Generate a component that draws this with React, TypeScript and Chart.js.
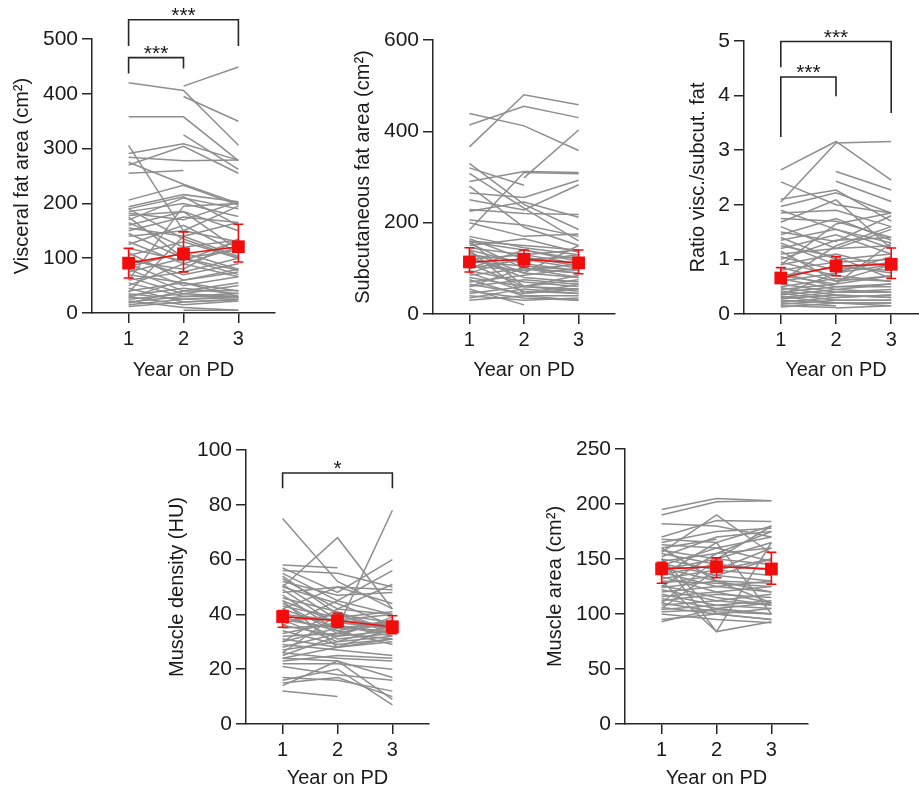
import React, { useEffect, useRef } from "react";
import { Chart, registerables } from "chart.js";
Chart.register(...registerables);

// ---------- shared ----------
const YEARS = [1, 2, 3];
const X_TICKS = [1, 2, 3];
const X_TITLE = "Year on PD";

// ---------- Visceral fat area ----------
const visceralY1 = [420, null, null, 358, null, 306, 291, 284, 270, 255, 275, 206, 194, 190, 185, 182, 178, 170, 165, 160, 155, 150, 145, 140, 130, 125, 118, 110, 105, 100, 95, 90, 85, 80, 75, 70, 65, 60, 55, 50, 45, 40, 35, 32, 30, 28, 25, 22, 20, 18, 15, null, 12, 38, 60, 190, 175];
const visceralY2 = [406, 414, 395, 358, 325, 150, 309, 278, 304, 260, 235, 233, 216, 212, 200, 170, 185, 210, 120, 185, 140, 175, 100, 150, 90, 160, 95, 60, 130, 70, 80, 50, 110, 40, 100, 55, 35, 75, 30, 90, 20, 55, 25, 45, 15, 60, 35, 10, 30, 40, 25, 5, 20, 140, 195, 135, 100];
const visceralY3 = [306, 449, 350, 278, 262, 130, 279, 279, 255, null, 200, 197, 203, 160, 176, 203, 150, 190, 133, 115, 103, 165, 78, 195, 120, 110, 133, 75, 100, 90, 135, 66, 80, 41, 115, 30, 50, 100, 30, 66, 24, 40, 30, 35, 22, 80, 30, 5, 36, 55, 28, 5, 25, 165, 200, 100, 70];
const visceralMean = [91, 108, 121];
const visceralLow = [64, 75, 93];
const visceralHigh = [118, 148, 162];
const visceralBrackets = [
  { from: 1, to: 3, y: 535, leftEnd: 487, rightEnd: 487, label: "***" },
  { from: 1, to: 2, y: 466, leftEnd: 437, rightEnd: 446, label: "***" },
];

// ---------- Subcutaneous fat area ----------
const subY1 = [439, 414, 366, null, 330, 320, 308, 290, 280, 265, 250, 229, 225, 206, 200, 184, 170, 165, 160, 158, 155, 150, 145, 140, 135, 130, 125, 120, 115, 110, 105, 100, 95, 90, 85, 80, 75, 70, 65, 60, 55, 50, 45, 40, 35, 30, 160, 140, 120, 90, 100, 60];
const subY2 = [412, 455, 480, 298, 240, 282, 232, 312, 190, 255, 228, 220, 245, 195, 170, 310, 145, 120, 150, 140, 100, 165, 130, 110, 90, 115, 80, 130, 105, 60, 95, 120, 70, 50, 100, 60, 40, 85, 45, 75, 20, 35, 60, 30, 55, 40, 60, 45, 90, 125, 140, 100];
const subY3 = [358, 430, 458, 403, 185, null, 160, 310, 150, 293, 283, 218, 212, 170, 175, 307, 130, 100, 140, 120, 90, 135, 110, 95, 80, 130, 70, 140, 95, 55, 110, 125, 60, 45, 90, 75, 40, 100, 55, 65, null, 30, 50, 35, 45, 30, 85, 65, 150, 105, 115, 80];
const subMean = [114, 120, 112];
const subLow = [92, 103, 88];
const subHigh = [145, 140, 140];

// ---------- Ratio visceral / subcutaneous ----------
const ratioY1 = [2.64, 2.05, 2.42, null, null, 2.1, 1.97, 1.9, 1.85, 1.75, 1.68, 1.6, 1.5, 1.45, 1.4, 1.35, 1.3, 1.2, 1.1, 1.05, 1.0, 0.95, 0.9, 0.85, 0.8, 0.75, 0.7, 0.65, 0.6, 0.55, 0.5, 0.48, 0.45, 0.42, 0.4, 0.38, 0.35, 0.32, 0.3, 0.28, 0.25, 0.22, 0.2, 0.18, 0.15, null, 0.13, 0.9, 0.6, 1.15, 0.7, 0.35, 1.25];
const ratioY2 = [3.16, 3.13, 2.0, 2.61, 2.43, 2.27, 2.22, 1.55, 1.9, 1.7, 2.09, 1.2, 1.33, 1.75, 1.0, 1.55, 0.9, 1.45, 1.2, 0.8, 1.35, 0.7, 1.1, 0.6, 0.95, 0.5, 0.85, 0.45, 0.75, 0.4, 0.65, 0.35, 0.55, 0.3, 0.5, 0.25, 0.45, 0.2, 0.4, 0.35, 0.2, 0.3, 0.15, 0.25, 0.12, 0.11, 0.2, 1.65, 1.25, 0.6, 0.55, 0.75, 1.05];
const ratioY3 = [2.45, 3.16, 1.85, 2.27, 2.06, 1.7, 1.85, 1.3, 1.6, 1.4, 1.2, 1.55, 1.8, 1.35, 1.1, 1.2, 0.75, 1.1, 1.25, 0.95, 1.4, 0.6, 0.85, 0.7, 1.0, 0.55, 0.8, 0.4, 0.9, 0.45, 0.6, 0.3, 0.7, 0.35, 0.5, 0.25, 0.55, 0.2, 0.4, 0.3, 0.15, 0.35, null, 0.25, null, 0.15, 0.2, 1.85, 1.6, 0.9, 1.3, 1.05, 0.65];
const ratioMean = [0.66, 0.88, 0.91];
const ratioLow = [0.58, 0.7, 0.65];
const ratioHigh = [0.85, 1.05, 1.21];
const ratioBrackets = [
  { from: 1, to: 3, y: 4.99, leftEnd: 4.52, rightEnd: 3.68, label: "***" },
  { from: 1, to: 2, y: 4.34, leftEnd: 3.24, rightEnd: 3.99, label: "***" },
];

// ---------- Muscle density ----------
const densY1 = [75, 50, 38, 58, 57, 56, 55, 54, 53, 52, 51, 50, 49, 48, 47, 46, 45, 44, 43, 42, 41, 40, 39, 38, 37, 36, 35, 34, 33, 32, 31, 30, 29, 28, 27, 26, 25, 24, 23, 22, 21, 17, 15, 14, 12, 16, 45, 42, 36, 30, 26, 24];
const densY2 = [52, 68, 35, 57, 48, 55, 45, 40, 42, 47, 38, 44, 36, 50, 34, 41, 37, 33, 39, 35, 31, 38, 34, 30, 40, 32, 36, 29, 37, 33, 28, 35, 27, 33, 30, 24, 32, 23, 25, 22, 18, 16, 17, 23, 10, 20, 28, 50, 45, 42, 40, 28];
const densY3 = [42, 42, 78, null, 60, 50, 56, 33, 51, 48, 40, 36, 32, 49, 38, 34, 35, 31, 41, 37, 33, 36, 29, 36, 34, 39, 33, 31, 35, 38, 30, 34, 25, 37, 32, 23, 34, 17, 24, 20, 16, 12, 10, 9, null, 7, 31, 44, 40, 40, 37, 35];
const densMean = [39.2, 37.7, 35.5];
const densLow = [35.3, 35.3, 33];
const densHigh = [41.4, 40.4, 39.5];
const densBrackets = [{ from: 1, to: 3, y: 91.6, leftEnd: 86, rightEnd: 86, label: "*" }];

// ---------- Muscle area ----------
const areaY1 = [195, 190, 182, 170, 168, 165, 163, 160, 158, 156, 155, 152, 150, 148, 146, 144, 142, 140, 138, 136, 134, 132, 130, 128, 126, 124, 122, 120, 118, 116, 114, 112, 110, 108, 106, 104, 102, 100, 95, 93, 130, 150, 150, 160, 110, 105, 135, 125];
const areaY2 = [205, 202, 180, 185, 165, 175, 160, 168, 150, 190, 145, 170, 140, 155, 135, 160, 130, 150, 125, 145, 120, 140, 128, 135, 115, 130, 112, 125, 108, 120, 105, 118, 102, 112, 100, 108, 104, 95, 100, 105, 84, 84, 100, 130, 150, 140, 165, 155];
const areaY3 = [203, 203, 170, 184, 180, 178, 170, null, 165, 155, 140, 175, 150, 160, 130, 148, 120, 145, 130, 140, 110, 135, 125, 150, 108, 128, 118, 120, 105, 125, 110, 115, 100, 108, 95, 112, 100, 92, 105, 100, 165, 93, 95, 110, 180, 160, 100, 175];
const areaMean = [141, 143, 141];
const areaLow = [128, 133, 127];
const areaHigh = [147, 151, 156];

// ---------- styling ----------
const FONT = "'Liberation Sans', Arial, Helvetica, sans-serif";
const TEXT = "#1a1a1a";
const AXIS = "#262626";
const GRAY = "#8e8e8e";
const RED = "#f20d0d";

type Bracket = { from: number; to: number; y: number; leftEnd: number; rightEnd: number; label: string };
type PanelCfg = {
  left: number; top: number; width: number; height: number;
  plotLeft: number; plotRight: number; plotTop: number; plotBottom: number;
  yMax: number; yStep: number; yTitle: string;
  y1: (number | null)[]; y2: (number | null)[]; y3: (number | null)[];
  mean: number[]; low: number[]; high: number[];
  brackets: Bracket[];
};

const PANELS: PanelCfg[] = [
  { left: 0, top: 0, width: 290, height: 392, plotLeft: 92, plotRight: 275, plotTop: 39, plotBottom: 313,
    yMax: 500, yStep: 100, yTitle: "Visceral fat area (cm²)",
    y1: visceralY1, y2: visceralY2, y3: visceralY3, mean: visceralMean, low: visceralLow, high: visceralHigh, brackets: visceralBrackets },
  { left: 341, top: 0, width: 289, height: 392, plotLeft: 433, plotRight: 615, plotTop: 40, plotBottom: 314,
    yMax: 600, yStep: 200, yTitle: "Subcutaneous fat area (cm²)",
    y1: subY1, y2: subY2, y3: subY3, mean: subMean, low: subLow, high: subHigh, brackets: [] },
  { left: 676, top: 0, width: 267, height: 392, plotLeft: 744, plotRight: 928, plotTop: 41, plotBottom: 314,
    yMax: 5, yStep: 1, yTitle: "Ratio visc./subcut. fat",
    y1: ratioY1, y2: ratioY2, y3: ratioY3, mean: ratioMean, low: ratioLow, high: ratioHigh, brackets: ratioBrackets },
  { left: 155, top: 420, width: 289, height: 380, plotLeft: 246, plotRight: 429, plotTop: 450, plotBottom: 724,
    yMax: 100, yStep: 20, yTitle: "Muscle density (HU)",
    y1: densY1, y2: densY2, y3: densY3, mean: densMean, low: densLow, high: densHigh, brackets: densBrackets },
  { left: 533, top: 420, width: 290, height: 380, plotLeft: 625, plotRight: 808, plotTop: 449, plotBottom: 724,
    yMax: 250, yStep: 50, yTitle: "Muscle area (cm²)",
    y1: areaY1, y2: areaY2, y3: areaY3, mean: areaMean, low: areaLow, high: areaHigh, brackets: [] },
];

function Panel({ cfg }: { cfg: PanelCfg }) {
  const ref = useRef<HTMLCanvasElement>(null);
  useEffect(() => {
    if (!ref.current) return;
    const c = cfg;
    const datasets: any[] = [];
    datasets.push({
      data: YEARS.map((x, i) => ({ x, y: c.mean[i] })),
      borderColor: RED, backgroundColor: RED, borderWidth: 1.6,
      pointStyle: "rect", pointRadius: 9, pointBackgroundColor: RED, pointBorderColor: RED, pointBorderWidth: 0,
      order: 0,
    });
    for (let i = 0; i < c.y1.length; i++) {
      datasets.push({
        data: [{ x: 1, y: c.y1[i] }, { x: 2, y: c.y2[i] }, { x: 3, y: c.y3[i] }],
        borderColor: GRAY, borderWidth: 1.5, pointRadius: 0, spanGaps: false, order: 1,
      });
    }
    const errorBars = {
      id: "errorBars",
      afterDatasetsDraw(chart: any) {
        const { ctx, scales } = chart;
        ctx.save();
        ctx.strokeStyle = RED;
        ctx.lineWidth = 1.6;
        for (let i = 0; i < YEARS.length; i++) {
          const px = scales.x.getPixelForValue(YEARS[i]);
          const lo = scales.y.getPixelForValue(c.low[i]);
          const hi = scales.y.getPixelForValue(c.high[i]);
          ctx.beginPath();
          ctx.moveTo(px, lo); ctx.lineTo(px, hi);
          ctx.moveTo(px - 5, lo); ctx.lineTo(px + 5, lo);
          ctx.moveTo(px - 5, hi); ctx.lineTo(px + 5, hi);
          ctx.stroke();
        }
        ctx.restore();
      },
    };
    const brackets = {
      id: "brackets",
      afterDraw(chart: any) {
        const { ctx, scales } = chart;
        ctx.save();
        ctx.strokeStyle = AXIS;
        ctx.fillStyle = TEXT;
        ctx.lineWidth = 1.6;
        ctx.font = `21px ${FONT}`;
        ctx.textAlign = "center";
        ctx.textBaseline = "alphabetic";
        for (const b of c.brackets) {
          const x1 = scales.x.getPixelForValue(b.from);
          const x2 = scales.x.getPixelForValue(b.to);
          const yb = scales.y.getPixelForValue(b.y);
          ctx.beginPath();
          ctx.moveTo(x1, scales.y.getPixelForValue(b.leftEnd));
          ctx.lineTo(x1, yb);
          ctx.lineTo(x2, yb);
          ctx.lineTo(x2, scales.y.getPixelForValue(b.rightEnd));
          ctx.stroke();
          ctx.fillText(b.label, (x1 + x2) / 2, yb + 2);
        }
        ctx.restore();
      },
    };
    const chart = new Chart(ref.current, {
      type: "line",
      data: { datasets },
      options: {
        responsive: false,
        maintainAspectRatio: false,
        animation: false,
        layout: { padding: { left: 0, top: c.plotTop - c.top, right: c.left + c.width - c.plotRight, bottom: 0 } },
        plugins: { legend: { display: false }, tooltip: { enabled: false } },
        scales: {
          x: {
            type: "linear", min: 1 / 3, max: 11 / 3,
            afterBuildTicks: (s: any) => { s.ticks = X_TICKS.map((v) => ({ value: v })); },
            afterFit: (s: any) => { s.height = c.top + c.height - c.plotBottom; },
            grid: { drawOnChartArea: false, color: AXIS, lineWidth: 1.5, tickLength: 10 },
            border: { color: AXIS, width: 1.5 },
            ticks: { color: TEXT, font: { family: FONT, size: 20 }, padding: 4, maxRotation: 0, callback: (v: any) => String(v) },
            title: { display: true, text: X_TITLE, color: TEXT, font: { family: FONT, size: 20 }, padding: { top: 0, bottom: 10 } },
          },
          y: {
            type: "linear", min: 0, max: c.yMax,
            afterFit: (s: any) => { s.width = c.plotLeft - c.left; },
            grid: { drawOnChartArea: false, color: AXIS, lineWidth: 1.5, tickLength: 10 },
            border: { color: AXIS, width: 1.5 },
            ticks: { stepSize: c.yStep, color: TEXT, font: { family: FONT, size: 21 }, padding: 4, callback: (v: any) => String(v) },
            title: { display: true, text: c.yTitle, color: TEXT, font: { family: FONT, size: 20 }, padding: { top: 10, bottom: 0 } },
          },
        },
      },
      plugins: [errorBars, brackets],
    } as any);
    return () => chart.destroy();
  }, [cfg]);
  return (
    <canvas
      ref={ref}
      width={cfg.width}
      height={cfg.height}
      style={{ position: "absolute", left: cfg.left, top: cfg.top, width: cfg.width, height: cfg.height, display: "block" }}
    />
  );
}

export default function App() {
  return (
    <div style={{ position: "absolute", left: 0, top: 0, width: 919, height: 793, overflow: "hidden", background: "#ffffff" }}>
      {PANELS.map((p, i) => (
        <Panel key={i} cfg={p} />
      ))}
    </div>
  );
}
